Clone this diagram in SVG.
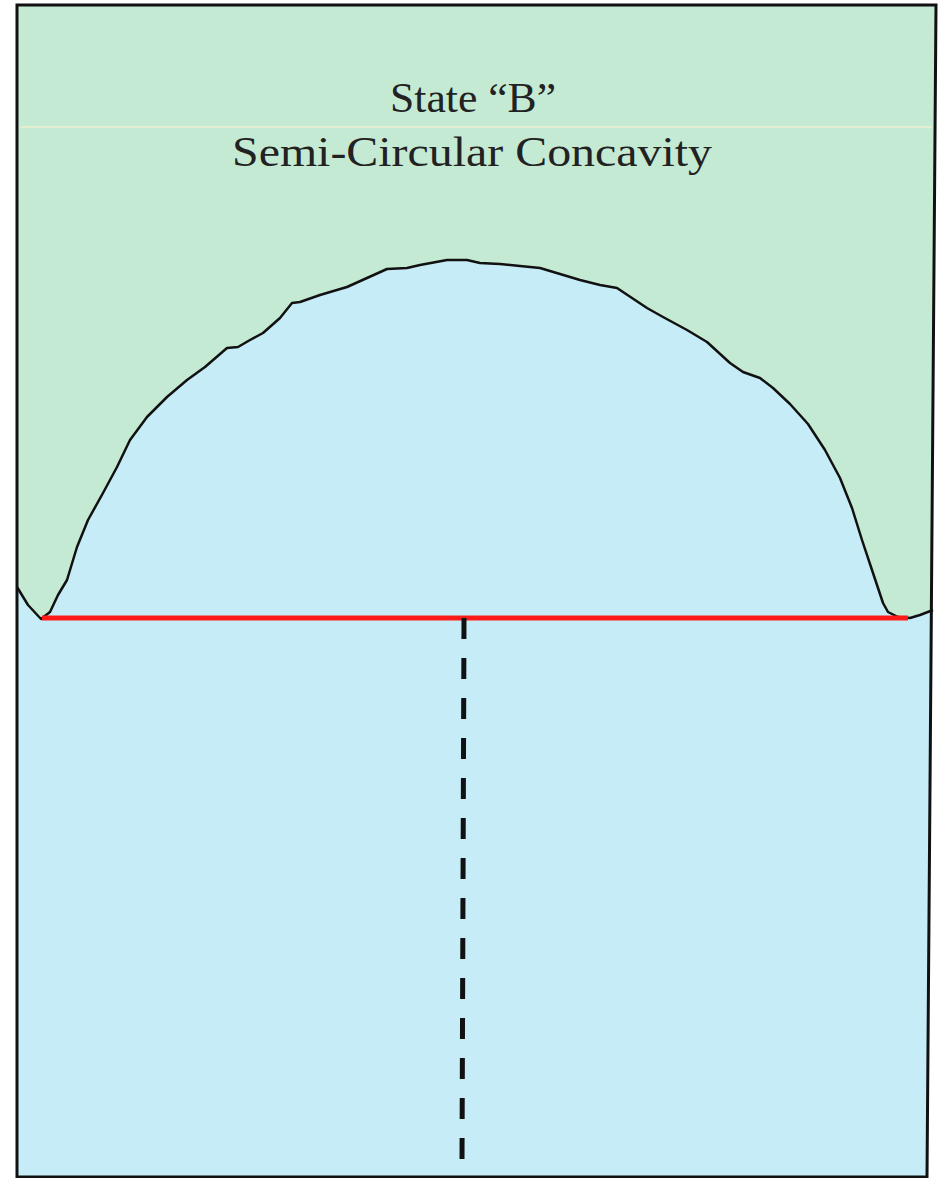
<svg xmlns="http://www.w3.org/2000/svg" width="944" height="1178" viewBox="0 0 944 1178">
  <style>
    .title { font-family: "Liberation Serif", "DejaVu Serif", serif; font-size: 42px; fill: #222; text-anchor: middle; }
    .curve { fill: none; stroke: #111; stroke-width: 2.5; stroke-linejoin: round; }
  </style>
  <rect x="0" y="0" width="944" height="1178" fill="#ffffff"/>
  <g id="background">
    <path d="M17,5 L936,5 L927,1177 L17,1177 Z" fill="#c5ead3"/>
    <line x1="20" y1="127" x2="932" y2="127" stroke="#e4ecd2" stroke-width="2"/>
  </g>
  <g id="cavity">
    <path d="M17,587 L28,605 L41,619 L50,612 L58,595 L67,580 L77,547 L88,520 L103,493 L117,467 L130,440 L147,417 L167,397 L187,380 L205,367 L227,348 L238,347 L250,340 L263,333 L280,318 L292,303 L300,302 L320,295 L347,287 L367,278 L387,269 L407,268 L420,265 L447,260 L467,260 L480,263 L500,264 L520,266 L540,268 L560,274 L580,280 L600,285 L617,288 L632,298 L647,308 L663,317 L687,330 L707,342 L730,363 L743,372 L760,378 L773,388 L790,404 L808,424 L825,450 L840,478 L852,508 L862,540 L872,570 L883,603 L888,612 L898,617 L910,618 L920,615 L933,610 L927,1177 L17,1177 Z" fill="#c6ecf8"/>
    <path class="curve" d="M17,587 L28,605 L41,619 L50,612 L58,595 L67,580 L77,547 L88,520 L103,493 L117,467 L130,440 L147,417 L167,397 L187,380 L205,367 L227,348 L238,347 L250,340 L263,333 L280,318 L292,303 L300,302 L320,295 L347,287 L367,278 L387,269 L407,268 L420,265 L447,260 L467,260 L480,263 L500,264 L520,266 L540,268 L560,274 L580,280 L600,285 L617,288 L632,298 L647,308 L663,317 L687,330 L707,342 L730,363 L743,372 L760,378 L773,388 L790,404 L808,424 L825,450 L840,478 L852,508 L862,540 L872,570 L883,603 L888,612 L898,617 L910,618 L920,615 L933,610"/>
  </g>
  <g id="connectors">
    <line id="diameter" x1="42" y1="618" x2="908" y2="618" stroke="#ff1a1a" stroke-width="5"/>
    <line id="radius" x1="464" y1="618" x2="462" y2="1161" stroke="#111" stroke-width="5" stroke-dasharray="21 19"/>
  </g>
  <g id="frame">
    <path d="M17,5 L936,5 L927,1177 L17,1177 Z" fill="none" stroke="#111" stroke-width="3"/>
  </g>
  <g id="label">
    <text class="title" x="473" y="112" textLength="166" lengthAdjust="spacingAndGlyphs">State “B”</text>
    <text class="title" x="472" y="166" textLength="480" lengthAdjust="spacingAndGlyphs">Semi-Circular Concavity</text>
  </g>
</svg>
